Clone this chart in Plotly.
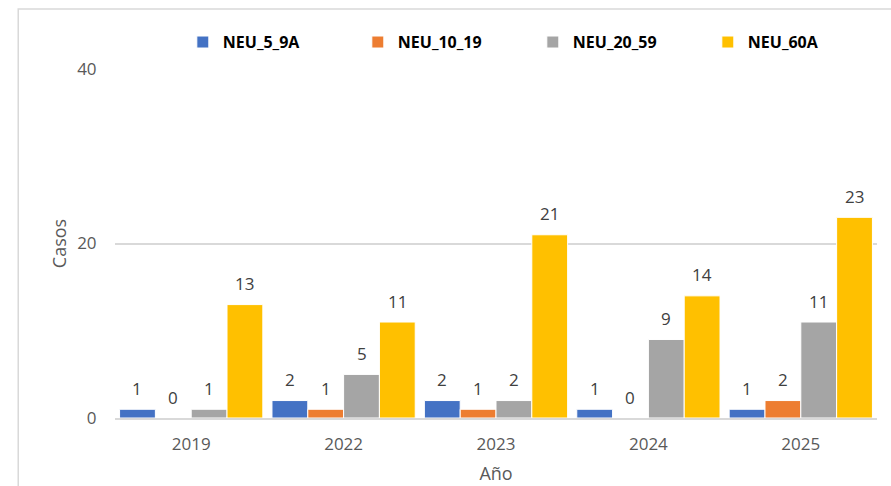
import plotly.graph_objects as go

years = ["2019", "2022", "2023", "2024", "2025"]
neu_5_9a = [1, 2, 2, 1, 1]
neu_10_19 = [0, 1, 1, 0, 2]
neu_20_59 = [1, 5, 2, 9, 11]
neu_60a = [13, 11, 21, 14, 23]

series = [
    ("NEU_5_9A", neu_5_9a, "#4472C4"),
    ("NEU_10_19", neu_10_19, "#ED7D31"),
    ("NEU_20_59", neu_20_59, "#A5A5A5"),
    ("NEU_60A", neu_60a, "#FFC000"),
]

FONT = "Open Sans"
W, H = 891, 486
ML, MR, MT, MB = 115, 14, 69, 68
BARGAP = 0.06

fig = go.Figure()
for name, vals, color in series:
    fig.add_trace(go.Bar(
        name=name, x=years, y=vals,
        marker=dict(color=color, line=dict(color="white", width=1)),
    ))

# data labels placed above each bar (pixel offsets derived from bar layout)
cat_px = (W - ML - MR) / len(years)
bar_px = cat_px * (1 - BARGAP) / len(series)
for si, (name, vals, color) in enumerate(series):
    dx = (si - (len(series) - 1) / 2) * bar_px
    for ci, v in enumerate(vals):
        fig.add_annotation(
            x=ci, y=v, xref="x", yref="y", text=str(v), showarrow=False,
            xshift=dx, yshift=21, yanchor="middle", xanchor="center",
            font=dict(family=FONT, size=17, color="#404040"),
        )

fig.update_layout(
    width=W, height=H,
    paper_bgcolor="white", plot_bgcolor="white",
    barmode="group", bargap=BARGAP, bargroupgap=0,
    margin=dict(l=ML, r=MR, t=MT, b=MB, autoexpand=False),
    font=dict(family=FONT, color="#595959"),
    legend=dict(
        orientation="h", x=0.089, y=1.077, xanchor="left", yanchor="middle",
        entrywidth=130, entrywidthmode="pixels",
        font=dict(family=FONT, size=16, color="#000000", weight="bold"),
        itemwidth=30, traceorder="normal",
    ),
    xaxis=dict(
        type="category", range=[-0.5, len(years) - 0.5],
        title=dict(text="Año", font=dict(size=18, color="#595959"), standoff=13),
        tickfont=dict(size=17, color="#595959"),
        showline=True, linecolor="#D9D9D9", linewidth=1.5,
        ticks="outside", ticklen=10, tickcolor="rgba(0,0,0,0)",
        showgrid=False,
    ),
    yaxis=dict(
        title=dict(text="Casos", font=dict(size=18, color="#595959"), standoff=5),
        tickfont=dict(size=17, color="#595959"),
        range=[0, 40], tickvals=[0, 20, 40],
        showgrid=True, gridcolor="#D9D9D9", gridwidth=1.5,
        zeroline=False,
        ticks="outside", ticklen=14, tickcolor="rgba(0,0,0,0)",
    ),
)

fig.add_shape(type="rect", xref="paper", yref="paper",
              x0=-0.127, x1=1.2, y0=-0.4, y1=1.172,
              line=dict(color="#D9D9D9", width=1.5), layer="below")

fig.write_html("out.html", post_script="document.body.style.margin='0';",
               config={"displayModeBar": False})
